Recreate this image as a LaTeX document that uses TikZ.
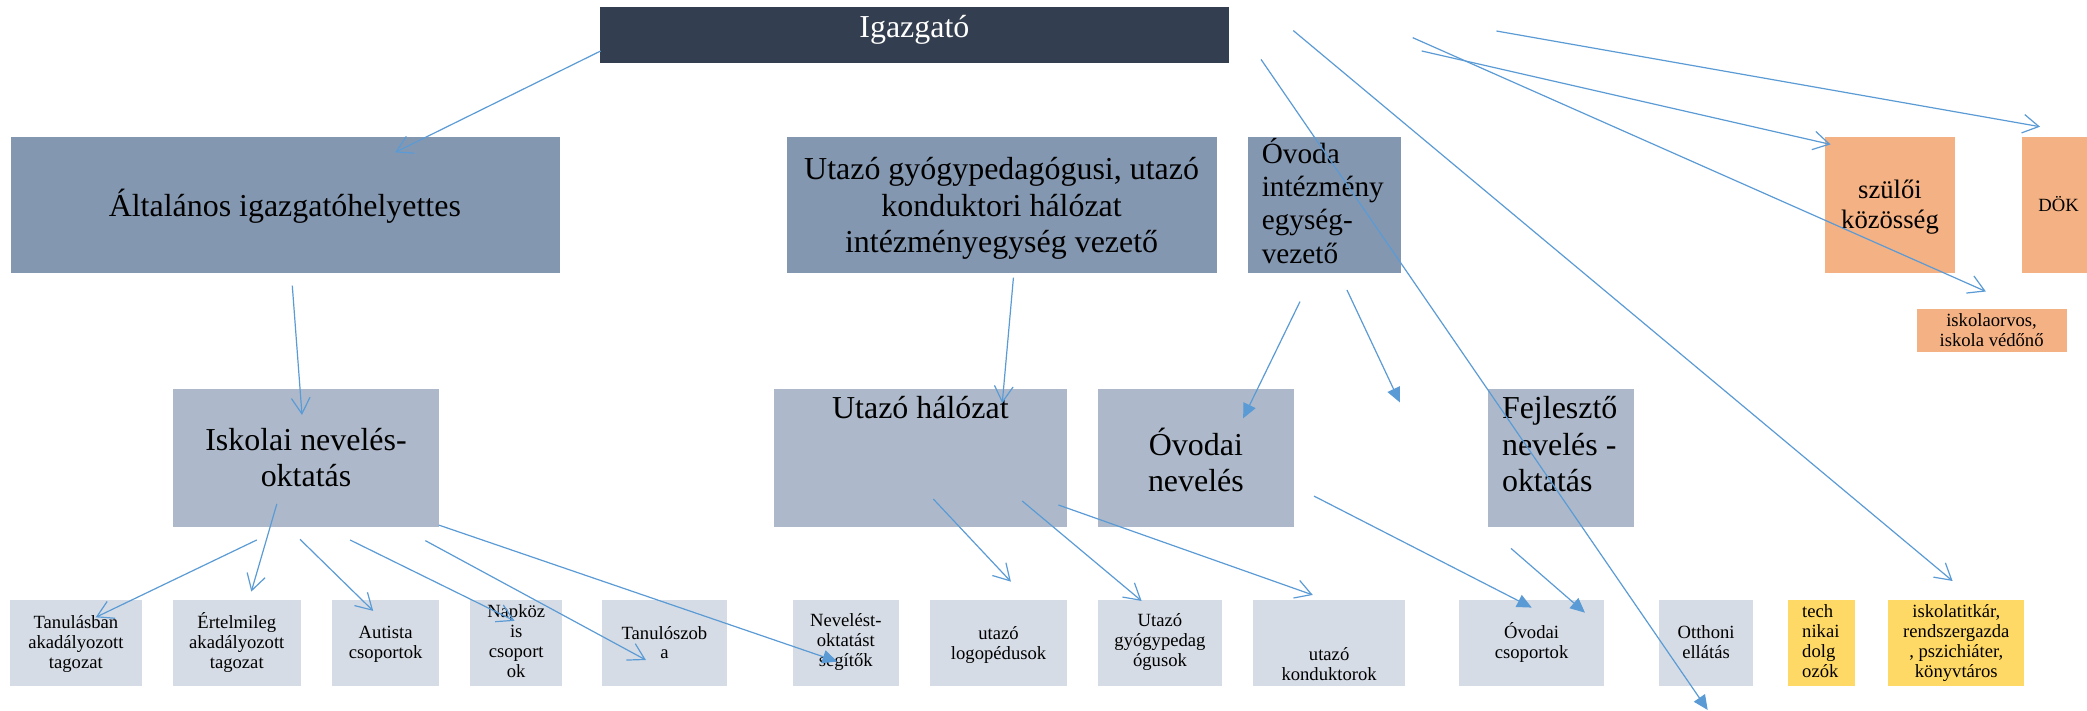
\documentclass[tikz,border=0pt]{standalone}
\usepackage{fontspec}
\setmainfont{Liberation Serif}
\usetikzlibrary{arrows.meta}
\definecolor{cdark}{HTML}{333F50}
\definecolor{ctop}{HTML}{8497B0}
\definecolor{cmid}{HTML}{ADB9CA}
\definecolor{clight}{HTML}{D6DCE5}
\definecolor{csalmon}{HTML}{F4B183}
\definecolor{cyellow}{HTML}{FFD966}
\definecolor{carrow}{HTML}{5B9BD5}
\tikzset{
  box/.style={draw=none, inner sep=0pt, outer sep=0pt, anchor=north west},
  txt/.style={inner sep=0pt, outer sep=0pt, anchor=base, align=center, text=black},
  txtl/.style={inner sep=0pt, outer sep=0pt, anchor=base west, align=left, text=black},
  big/.style={font=\fontsize{24}{27.5}\selectfont},
  mediumf/.style={font=\fontsize{22}{25}\selectfont},
  szf/.style={font=\fontsize{20}{22.8}\selectfont},
  small/.style={font=\fontsize{14}{15}\selectfont},
  con/.style={draw=carrow, line width=0.9pt},
  openhead/.style={con, -{Straight Barb[length=12pt,width=14pt,line width=0.9pt]}},
  fillhead/.style={con, -{Triangle[length=11pt,width=10pt]}}
}
\begin{document}
\begin{tikzpicture}[x=1pt,y=-1pt]
\useasboundingbox (0,0) rectangle (1568,534);
\fill[white] (0,0) rectangle (1568,534);

% top level
\node[box, fill=cdark, minimum width=472pt, minimum height=42.6pt] (igaz) at (451,5) {};
\node[txt, big, text=white] (tigaz) at (687,28) {Igazgató};

% second level (base anchor = last line)
\node[box, fill=ctop, minimum width=413pt, minimum height=102pt] (alt) at (8,103) {};
\node[txt, big] (talt) at (214,162.8) {Általános igazgatóhelyettes};
\node[box, fill=ctop, minimum width=323pt, minimum height=102pt] (utv) at (591,103) {};
\node[txt, big] (tutv) at (752.5,190) {Utazó gyógypedagógusi, utazó\\konduktori hálózat\\intézményegység vezető};
\node[box, fill=ctop, minimum width=114.6pt, minimum height=102pt] (ovv) at (938,103) {};
\node[txtl, mediumf] (tovv) at (948,197.8) {Óvoda\\intézmény\\egység-\\vezető};
\node[box, fill=csalmon, minimum width=98pt, minimum height=102pt] (szul) at (1371,103) {};
\node[txt, szf] (tszul) at (1420,171.6) {szülői\\közösség};
\node[box, fill=csalmon, minimum width=49pt, minimum height=102pt] (dok) at (1519,103) {};
\node[txt, small] (tdok) at (1546.6,159) {DÖK};
\node[box, fill=csalmon, minimum width=112.6pt, minimum height=31.8pt] (orv) at (1440,232.4) {};
\node[txt, small] (torv) at (1496.3,260.5) {iskolaorvos,\\iskola védőnő};

% third level
\node[box, fill=cmid, minimum width=199.7pt, minimum height=103.5pt] (isk) at (130,292.2) {};
\node[txt, big] (tisk) at (229.9,365.6) {Iskolai nevelés-\\oktatás};
\node[box, fill=cmid, minimum width=220.4pt, minimum height=103.5pt] (uth) at (581.3,292.2) {};
\node[txt, big] (tuth) at (691.5,314.3) {Utazó hálózat};
\node[box, fill=cmid, minimum width=147pt, minimum height=103.5pt] (ovn) at (825,292.2) {};
\node[txt, big] (tovn) at (898.5,369.4) {Óvodai\\nevelés};
\node[box, fill=cmid, minimum width=109.4pt, minimum height=103.5pt] (fej) at (1118,292.2) {};
\node[txtl, big] (tfej) at (1128.5,369.4) {Fejlesztő\\nevelés -\\oktatás};

% bottom row
\node[box, fill=clight, minimum width=99.6pt, minimum height=64.6pt] (b1) at (7.2,450.8) {};
\node[txt, small] (tb1) at (57,502) {Tanulásban\\akadályozott\\tagozat};
\node[box, fill=clight, minimum width=95.8pt, minimum height=64.6pt] (b2) at (130,450.8) {};
\node[txt, small] (tb2) at (177.9,502.5) {Értelmileg\\akadályozott\\tagozat};
\node[box, fill=clight, minimum width=80.5pt, minimum height=64.6pt] (b3) at (249.5,450.8) {};
\node[txt, small] (tb3) at (289.75,494.6) {Autista\\csoportok};
\node[box, fill=clight, minimum width=69.1pt, minimum height=64.6pt] (b4) at (353.3,450.8) {};
\node[txt, small] (tb4) at (387.85,508.9) {Napköz\\is\\csoport\\ok};
\node[box, fill=clight, minimum width=94.4pt, minimum height=64.6pt] (b5) at (452,450.8) {};
\node[txt, small] (tb5) at (499.2,495.1) {Tanulószob\\a};
\node[box, fill=clight, minimum width=79.5pt, minimum height=64.6pt] (b6) at (595.7,450.8) {};
\node[txt, small] (tb6) at (635.45,500.9) {Nevelést-\\oktatást\\segítők};
\node[box, fill=clight, minimum width=102.9pt, minimum height=64.6pt] (b7) at (698.8,450.8) {};
\node[txt, small] (tb7) at (750.25,495.8) {utazó\\logopédusok};
\node[box, fill=clight, minimum width=93pt, minimum height=64.6pt] (b8) at (825,450.8) {};
\node[txt, small] (tb8) at (871.5,500.9) {Utazó\\gyógypedag\\ógusok};
\node[box, fill=clight, minimum width=114.2pt, minimum height=64.6pt] (b9) at (941.5,450.8) {};
\node[txt, small] (tb9) at (998.6,510.9) {utazó\\konduktorok};
\node[box, fill=clight, minimum width=108.6pt, minimum height=64.6pt] (b10) at (1096.4,450.8) {};
\node[txt, small] (tb10) at (1150.7,495) {Óvodai\\csoportok};
\node[box, fill=clight, minimum width=70.4pt, minimum height=64.6pt] (b11) at (1246.6,450.8) {};
\node[txt, small] (tb11) at (1281.8,494.6) {Otthoni\\ellátás};
\node[box, fill=cyellow, minimum width=51pt, minimum height=64.6pt] (b12) at (1343,450.8) {};
\node[txtl, small] (tb12) at (1354,508.9) {tech\\nikai\\dolg\\ozók};
\node[box, fill=cyellow, minimum width=102.4pt, minimum height=64.6pt] (b13) at (1418.6,450.8) {};
\node[txt, small] (tb13) at (1469.8,508.9) {iskolatitkár,\\rendszergazda\\, pszichiáter,\\könyvtáros};

% connector end points
\coordinate (a1s) at (451.3,38.3);   \coordinate (a1e) at (296.8,114.5);
\coordinate (a2s) at (219.6,214.6);  \coordinate (a2e) at (226.9,311.8);
\coordinate (a3s) at (761.4,208.6);  \coordinate (a3e) at (753,303);
\coordinate (a4s) at (976.7,226.6);  \coordinate (a4e) at (934,314.3);
\coordinate (a5s) at (1012,217.9);   \coordinate (a5e) at (1051.7,302.3);
\coordinate (a6s) at (947.4,44.6);   \coordinate (a6e) at (1283,533.4);
\coordinate (a7s) at (971.7,23);     \coordinate (a7e) at (1467,436.5);
\coordinate (a8s) at (1061.4,28.3);  \coordinate (a8e) at (1492,219);
\coordinate (a9s) at (1068.1,38.3);  \coordinate (a9e) at (1375.3,108.5);
\coordinate (a10s) at (1124.3,23.3); \coordinate (a10e) at (1532.7,95.2);
\coordinate (b1s) at (192.9,405.7);  \coordinate (b1e) at (71.9,463.8);
\coordinate (b2s) at (208,378.6);    \coordinate (b2e) at (188.8,444.5);
\coordinate (b3s) at (225.4,405.2);  \coordinate (b3e) at (280.4,459);
\coordinate (b4s) at (263,405.7);    \coordinate (b4e) at (386.6,466.5);
\coordinate (b5s) at (319.6,406.2);  \coordinate (b5e) at (485.3,495.9);
\coordinate (b6s) at (329.7,394.5);  \coordinate (b6e) at (629,497);
\coordinate (c1s) at (701.2,374.9);  \coordinate (c1e) at (759.5,437);
\coordinate (c2s) at (768,376.4);    \coordinate (c2e) at (857.7,451.5);
\coordinate (c3s) at (795.2,379.4);  \coordinate (c3e) at (986.3,447);
\coordinate (d1s) at (987.2,372.7);  \coordinate (d1e) at (1150.8,456.5);
\coordinate (d2s) at (1135.2,412);   \coordinate (d2e) at (1190.8,460.3);

% connectors
\draw[openhead] (a1s) -- (a1e);
\draw[openhead] (a2s) -- (a2e);
\draw[openhead] (a3s) -- (a3e);
\draw[fillhead] (a4s) -- (a4e);
\draw[fillhead] (a5s) -- (a5e);
\draw[fillhead] (a6s) -- (a6e);
\draw[openhead] (a7s) -- (a7e);
\draw[openhead] (a8s) -- (a8e);
\draw[openhead] (a9s) -- (a9e);
\draw[openhead] (a10s) -- (a10e);
\draw[openhead] (b1s) -- (b1e);
\draw[openhead] (b2s) -- (b2e);
\draw[openhead] (b3s) -- (b3e);
\draw[openhead] (b4s) -- (b4e);
\draw[openhead] (b5s) -- (b5e);
\draw[fillhead] (b6s) -- (b6e);
\draw[openhead] (c1s) -- (c1e);
\draw[openhead] (c2s) -- (c2e);
\draw[openhead] (c3s) -- (c3e);
\draw[fillhead] (d1s) -- (d1e);
\draw[fillhead] (d2s) -- (d2e);
\end{tikzpicture}
\end{document}
